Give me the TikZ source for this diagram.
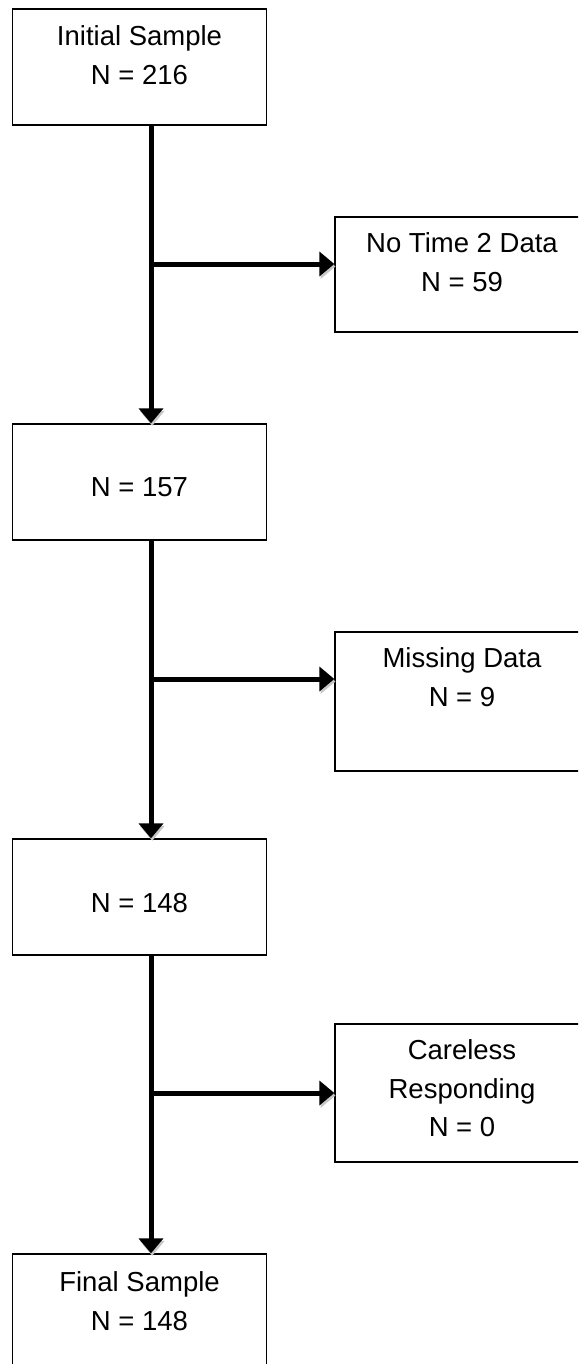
\documentclass[tikz,border=0pt]{standalone}
\usepackage{fontspec}
\setmainfont{Liberation Sans}
\usetikzlibrary{arrows.meta,calc}
\begin{document}
\begin{tikzpicture}[x=1pt,y=-1pt,
  box/.style={draw=black, line width=1.3pt, fill=white, minimum width=254pt, inner sep=0pt},
  txt/.style={anchor=north, align=center, inner sep=0pt, font=\fontsize{27.5}{38.5}\selectfont},
  arr/.style={line width=5pt, -{Triangle[length=15pt,width=24pt]},
    preaction={draw=black!22, transform canvas={shift={(1.2pt,-2.5pt)}}}}]
\path[use as bounding box, clip] (0,0) rectangle (578,1364);
% main column boxes
\node[box, minimum height=116pt] (b1) at (139.5,67) {};
\node[box, minimum height=116pt] (b2) at (139.5,482) {};
\node[box, minimum height=116pt] (b3) at (139.5,897) {};
\node[box, minimum height=116pt] (b4) at (139.5,1312) {};
% side boxes
\node[box, minimum height=115pt] (s1) at (462,274.5) {};
\node[box, minimum height=139pt] (s2) at (462,701.5) {};
\node[box, minimum height=138pt] (s3) at (462,1093) {};
% texts
\node[txt] (t1) at ($(b1.north)+(0,17.5)$) {Initial Sample\\N = 216};
\node[txt] (t2) at ($(b2.north)+(0,54.5)$) {N = 157};
\node[txt] (t3) at ($(b3.north)+(0,54.5)$) {N = 148};
\node[txt] (t4) at ($(b4.north)+(0,18.5)$) {Final Sample\\N = 148};
\node[txt] (u1) at ($(s1.north)+(0,16.5)$) {No Time 2 Data\\N = 59};
\node[txt] (u2) at ($(s2.north)+(0,16.5)$) {Missing Data\\N = 9};
\node[txt] (u3) at ($(s3.north)+(0,16.5)$) {Careless\\Responding\\N = 0};
% junctions on the spine
\coordinate (j1) at (151,264);
\coordinate (j2) at (151,679);
\coordinate (j3) at (151,1093);
% connectors
\draw[arr] (b1.south -| j1) -- (b2.north -| j1);
\draw[arr] (b2.south -| j2) -- (b3.north -| j2);
\draw[arr] (b3.south -| j3) -- (b4.north -| j3);
\draw[arr] (j1) -- (j1 -| s1.west);
\draw[arr] (j2) -- (j2 -| s2.west);
\draw[arr] (j3) -- (j3 -| s3.west);
\end{tikzpicture}
\end{document}
